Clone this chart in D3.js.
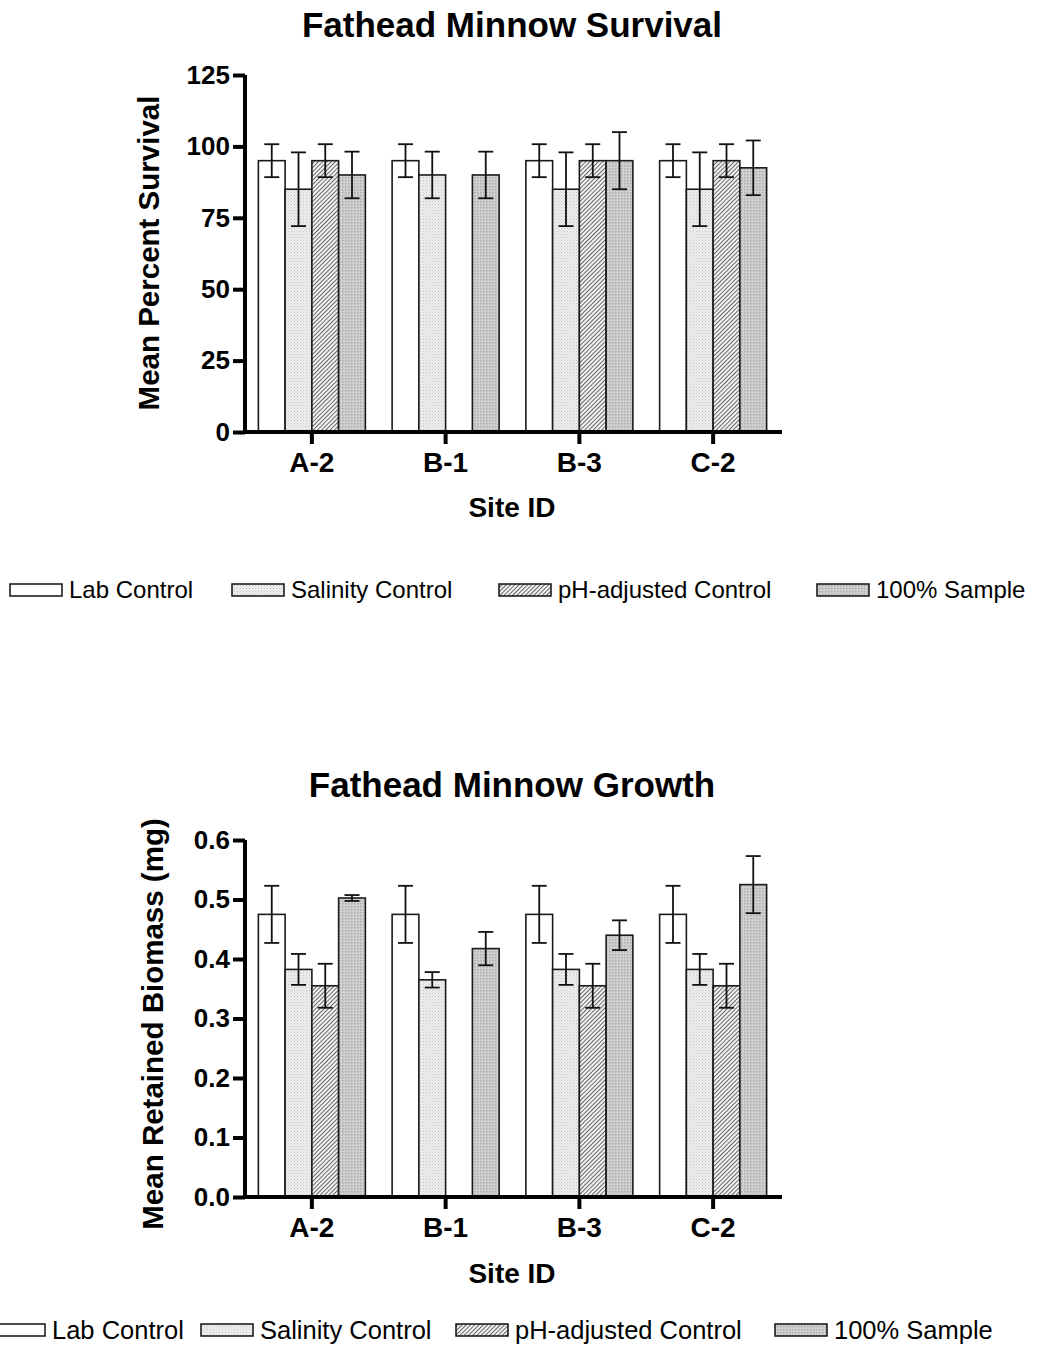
<!DOCTYPE html>
<html>
<head>
<meta charset="utf-8">
<script src="https://cdn.jsdelivr.net/npm/d3@7"></script>
<style>
  body { margin: 0; background: #fff; }
  svg text { font-family: Arial, "Liberation Sans", sans-serif; fill: #000; }
</style>
</head>
<body>
<div id="chart"></div>
<script>
const sites = ["A-2", "B-1", "B-3", "C-2"]
const groups = ["Lab Control", "Salinity Control", "pH-adjusted Control", "100% Sample"]

// survival (%), per site: [lab, salinity, pH, 100%]
const survivalMeans = [[95, 85, 95, 90], [95, 90, null, 90], [95, 85, 95, 95], [95, 85, 95, 92.5]]
const survivalErrs = [[5.77, 12.91, 5.77, 8.16], [5.77, 8.16, null, 8.16], [5.77, 12.91, 5.77, 10], [5.77, 12.91, 5.77, 9.57]]
const survivalTicks = [0, 25, 50, 75, 100, 125]

// retained biomass (mg)
const growthMeans = [[0.475, 0.3825, 0.355, 0.5025], [0.475, 0.365, null, 0.4175], [0.475, 0.3825, 0.355, 0.44], [0.475, 0.3825, 0.355, 0.525]]
const growthErrs = [[0.048, 0.026, 0.037, 0.005], [0.048, 0.013, null, 0.028], [0.048, 0.026, 0.037, 0.025], [0.048, 0.026, 0.037, 0.048]]
const growthTicks = [0, 0.1, 0.2, 0.3, 0.4, 0.5, 0.6]

const W = 1049, H = 1345
const svg = d3.select("#chart").append("svg").attr("width", W).attr("height", H)

// fill patterns
const defs = svg.append("defs")
var p = defs.append("pattern").attr("id", "pSal").attr("patternUnits", "userSpaceOnUse").attr("width", 3).attr("height", 3)
p.append("rect").attr("width", 3).attr("height", 3).attr("fill", "#eeeeee")
p.append("rect").attr("width", 1).attr("height", 1).attr("fill", "#c4c4c4")
p.append("rect").attr("x", 1.5).attr("y", 1.5).attr("width", 1).attr("height", 1).attr("fill", "#d4d4d4")

p = defs.append("pattern").attr("id", "pPh").attr("patternUnits", "userSpaceOnUse").attr("width", 3).attr("height", 3)
  .attr("patternTransform", "rotate(45)")
p.append("rect").attr("width", 3).attr("height", 3).attr("fill", "#f2f2f2")
p.append("line").attr("x1", 0).attr("y1", 0).attr("x2", 0).attr("y2", 3).attr("stroke", "#3a3a3a").attr("stroke-width", 1.5)

p = defs.append("pattern").attr("id", "pSam").attr("patternUnits", "userSpaceOnUse").attr("width", 3).attr("height", 3)
p.append("rect").attr("width", 3).attr("height", 3).attr("fill", "#d0d0d0")
p.append("rect").attr("width", 1.5).attr("height", 1.5).attr("fill", "#acacac")

const fills = ["#ffffff", "url(#pSal)", "url(#pPh)", "url(#pSam)"]

function drawChart(cfg) {
  const g = svg.append("g")

  var x0 = d3.scaleBand().domain(sites).range([245, 780]).paddingInner(0.2).paddingOuter(0.1)
  var x1 = d3.scaleBand().domain(groups).range([0, x0.bandwidth()])
  var y = d3.scaleLinear().domain(cfg.domain).range([cfg.bottom, cfg.top])

  // bars
  sites.forEach(function (s, i) {
    groups.forEach(function (gr, j) {
      var v = cfg.means[i][j]
      if (v == null) return
      g.append("rect")
        .attr("x", x0(s) + x1(gr))
        .attr("y", y(v))
        .attr("width", x1.bandwidth())
        .attr("height", y(0) - y(v))
        .attr("fill", fills[j])
        .attr("stroke", "#1a1a1a")
        .attr("stroke-width", 1.6)
    })
  })
  // error bars
  sites.forEach(function (s, i) {
    groups.forEach(function (gr, j) {
      var v = cfg.means[i][j], e = cfg.errs[i][j]
      if (v == null) return
      var cx = x0(s) + x1(gr) + x1.bandwidth() / 2
      var eb = g.append("g").attr("stroke", "#111").attr("stroke-width", 1.8)
      eb.append("line").attr("x1", cx).attr("x2", cx).attr("y1", y(v + e)).attr("y2", y(v - e))
      eb.append("line").attr("x1", cx - 7.5).attr("x2", cx + 7.5).attr("y1", y(v + e)).attr("y2", y(v + e))
      eb.append("line").attr("x1", cx - 7.5).attr("x2", cx + 7.5).attr("y1", y(v - e)).attr("y2", y(v - e))
    })
  })

  // axes
  var yAxis = d3.axisLeft(y).tickValues(cfg.ticks).tickFormat(cfg.fmt).tickSize(12).tickSizeOuter(0).tickPadding(3)
  var ya = g.append("g").attr("transform", "translate(245,0)").call(yAxis)
  var xAxis = d3.axisBottom(x0).tickSize(12).tickSizeOuter(0).tickPadding(8)
  var xa = g.append("g").attr("transform", "translate(0," + cfg.bottom + ")").call(xAxis)
  ;[ya, xa].forEach(function (a) {
    a.select(".domain").attr("stroke", "#000").attr("stroke-width", 4)
    a.selectAll(".tick line").attr("stroke", "#000").attr("stroke-width", 4)
    a.selectAll("text").attr("font-family", "Arial, 'Liberation Sans', sans-serif").attr("font-weight", "bold").attr("fill", "#000")
  })
  ya.selectAll("text").attr("font-size", 26)
  xa.selectAll("text").attr("font-size", 28)
  // extend x axis line over y axis corner
  xa.select(".domain").attr("d", "M243,0H" + 782)
  ya.select(".domain").attr("d", "M0," + (cfg.bottom + 2) + "V" + cfg.top)

  // titles
  g.append("text").attr("x", 512).attr("y", cfg.titleY).attr("text-anchor", "middle")
    .attr("font-size", 35).attr("font-weight", "bold").text(cfg.title)
  g.append("text").attr("x", 512).attr("y", cfg.xLabelY).attr("text-anchor", "middle")
    .attr("font-size", 28).attr("font-weight", "bold").text("Site ID")
  g.append("text").attr("transform", "translate(" + cfg.yLabelX + "," + cfg.yLabelMid + ") rotate(-90)")
    .attr("text-anchor", "middle").attr("font-size", cfg.yLabelSize).attr("font-weight", "bold").text(cfg.yLabel)

  // legend
  var lg = g.append("g")
  groups.forEach(function (gr, j) {
    lg.append("rect").attr("x", cfg.legendX[j]).attr("y", cfg.legendY - 6).attr("width", 52).attr("height", 12)
      .attr("fill", fills[j]).attr("stroke", "#111").attr("stroke-width", 1.5)
    lg.append("text").attr("x", cfg.legendX[j] + 59).attr("y", cfg.legendY).attr("dy", "0.35em")
      .attr("font-size", cfg.legendSize).text(gr)
  })
}

drawChart({
  means: survivalMeans, errs: survivalErrs, ticks: survivalTicks, domain: [0, 125],
  fmt: d3.format("d"), top: 75, bottom: 432,
  title: "Fathead Minnow Survival", titleY: 37, xLabelY: 517,
  yLabel: "Mean Percent Survival", yLabelX: 159, yLabelMid: 253, yLabelSize: 29.5,
  legendX: [10, 232, 499, 817], legendY: 590, legendSize: 24
})

drawChart({
  means: growthMeans, errs: growthErrs, ticks: growthTicks, domain: [0, 0.6],
  fmt: d3.format(".1f"), top: 840, bottom: 1197,
  title: "Fathead Minnow Growth", titleY: 797, xLabelY: 1283,
  yLabel: "Mean Retained Biomass (mg)", yLabelX: 163, yLabelMid: 1024, yLabelSize: 29.5,
  legendX: [-7, 201, 456, 775], legendY: 1330, legendSize: 25.5
})
</script>
</body>
</html>
